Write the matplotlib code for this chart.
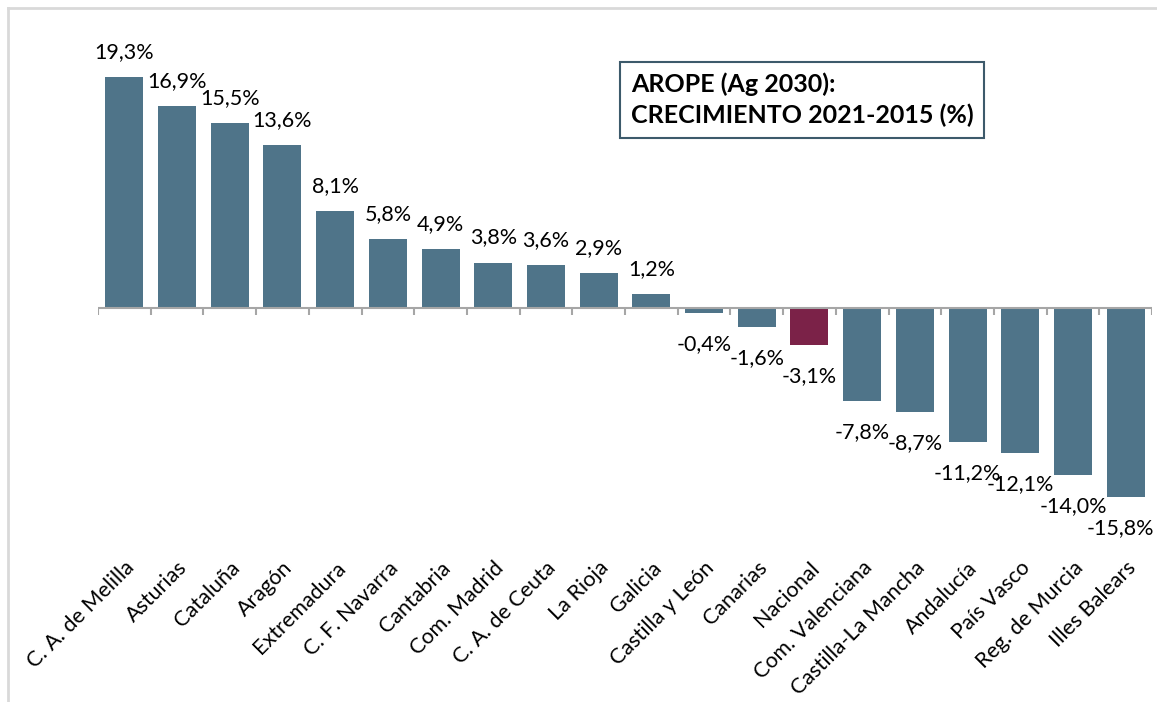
import matplotlib
matplotlib.use("Agg")
import matplotlib.pyplot as plt
from matplotlib.lines import Line2D
import numpy as np

regiones = ["C. A. de Melilla", "Asturias", "Cataluña", "Aragón", "Extremadura",
            "C. F. Navarra", "Cantabria", "Com. Madrid", "C. A. de Ceuta", "La Rioja",
            "Galicia", "Castilla y León", "Canarias", "Nacional", "Com. Valenciana",
            "Castilla-La Mancha", "Andalucía", "País Vasco", "Reg. de Murcia", "Illes Balears"]
crecimiento = [19.3, 16.9, 15.5, 13.6, 8.1, 5.8, 4.9, 3.8, 3.6, 2.9,
               1.2, -0.4, -1.6, -3.1, -7.8, -8.7, -11.2, -12.1, -14.0, -15.8]
destacado = "Nacional"

plt.rcParams["font.family"] = ["Lato", "DejaVu Sans"]

azul = "#4f7489"
granate = "#7b2248"
colores = [granate if r == destacado else azul for r in regiones]

fig = plt.figure(figsize=(11.57, 7.02), dpi=100)
W, H = 1157, 702
# plot area in pixels: x 98..1152, y 20..548
ax = fig.add_axes([98 / W, 1 - 548 / H, (1152 - 98) / W, (548 - 20) / H])

x = np.arange(len(regiones))
ax.bar(x, crecimiento, width=0.72, color=colores, edgecolor="none", zorder=2)

ax.set_xlim(-0.5, len(regiones) - 0.5)
ppu = 11.95  # pixels per percentage point
ax.set_ylim(-(548 - 308) / ppu, (308 - 20) / ppu)

# eje cero con marcas entre categorias
ax.axhline(0, color="#a6a6a6", lw=1.5, zorder=3)
ax.vlines(np.arange(len(regiones) + 1) - 0.5, -7 / ppu, 0, color="#a6a6a6", lw=1.5, zorder=3)

for i, v in enumerate(crecimiento):
    etiqueta = f"{v:.1f}%".replace(".", ",")
    if v >= 0:
        off = 19
    else:
        off = -37
    dx = -5 if i == len(crecimiento) - 1 else 0
    ax.annotate(etiqueta, (i, v), xytext=(dx, off), textcoords="offset pixels",
                ha="center", va="baseline", fontsize=15.5, color="black", zorder=4)

ax.set_xticks(x)
ax.set_xticklabels(regiones, rotation=45, ha="right", va="top",
                   rotation_mode="anchor", fontsize=15.5)
ax.tick_params(axis="x", length=0, pad=7)
ax.set_yticks([])
for s in ax.spines.values():
    s.set_visible(False)

# cuadro de titulo
fig.text(631 / W, 1 - 100 / H, "AROPE (Ag 2030):\nCRECIMIENTO 2021-2015 (%)",
         ha="left", va="center", fontsize=18, fontweight="bold", linespacing=1.4,
         bbox=dict(boxstyle="square,pad=0.42", facecolor="white", edgecolor="#3d5a6b", linewidth=1.5))

# marco gris del grafico
fig.add_artist(Line2D([8 / W, 8 / W], [0, 1 - 8 / H], color="#d9d9d9", lw=2))
fig.add_artist(Line2D([8 / W, 1], [1 - 8 / H, 1 - 8 / H], color="#d9d9d9", lw=2))

fig.savefig("out.png", dpi=100)
